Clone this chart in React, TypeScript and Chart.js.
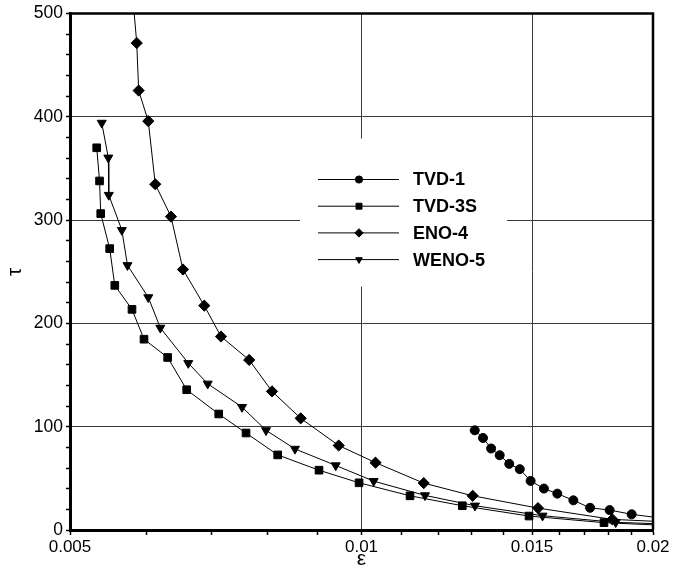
import React, { useEffect, useRef } from 'react';
import { Chart, registerables } from 'chart.js';
import { drawPoint } from 'chart.js/helpers';

Chart.register(...registerables);

// ---- data ----
const seriesNames = ['TVD-1', 'TVD-3S', 'ENO-4', 'WENO-5'];

const tvd1X = [0.01309, 0.01335, 0.01361, 0.01389, 0.01421, 0.01457, 0.01495, 0.01543, 0.01593, 0.01655, 0.01722, 0.01804, 0.01901];
const tvd1Y = [96.5, 89.1, 78.9, 72.4, 64.0, 58.9, 47.5, 40.1, 35.2, 28.7, 21.5, 19.3, 15.2];
const tvd1Tail = { x: 0.02, y: 12.5 };

const tvd3sX = [0.005328, 0.005364, 0.005379, 0.005495, 0.005562, 0.005794, 0.005962, 0.006307, 0.006599, 0.007121, 0.007599, 0.008193, 0.009039, 0.009942, 0.011223, 0.012709, 0.014893, 0.0178];
const tvd3sY = [370.0, 337.9, 306.3, 272.4, 236.8, 213.6, 184.7, 167.0, 135.8, 112.3, 93.9, 72.7, 57.9, 45.7, 33.1, 23.5, 13.5, 7.1];
const tvd3sTail = { x: 0.02, y: 5 };

const eno4Head = { x: 0.0058, y: 520 };
const eno4X = [0.00586, 0.005887, 0.006023, 0.006124, 0.006357, 0.006541, 0.006881, 0.00716, 0.007656, 0.008083, 0.008654, 0.009472, 0.010339, 0.011594, 0.013027, 0.015215, 0.018155];
const eno4Y = [471.4, 425.4, 395.8, 334.7, 303.4, 252.2, 217.2, 187.3, 164.6, 134.2, 108.1, 81.8, 65.2, 45.4, 33.1, 21.2, 10.3];
const eno4Tail = { x: 0.02, y: 8.5 };

const weno5X = [0.005392, 0.005477, 0.005483, 0.005656, 0.005732, 0.006023, 0.006198, 0.006624, 0.006937, 0.007527, 0.007969, 0.008537, 0.009405, 0.010294, 0.01163, 0.013098, 0.01538, 0.018302];
const weno5Y = [394.1, 360.4, 324.3, 290.3, 256.3, 225.2, 195.7, 161.5, 141.6, 119.0, 96.5, 78.5, 62.5, 47.3, 33.5, 23.5, 13.8, 7.4];
const weno5Tail = { x: 0.02, y: 6.2 };

// ---- axes ----
const xMin = 0.005;
const xMax = 0.02;
const xTickValues = [0.005, 0.006, 0.007, 0.008, 0.009, 0.01, 0.011, 0.012, 0.013, 0.014, 0.015, 0.016, 0.017, 0.018, 0.019, 0.02];
const xTickLabels: Record<string, string> = { '0.005': '0.005', '0.01': '0.01', '0.015': '0.015', '0.02': '0.02' };
const xGridValues = [0.01, 0.015];
const yMin = 0;
const yMax = 500;
const yMinorStep = 20;
const yMajorStep = 100;

const FONT = "'Liberation Sans', Arial, Helvetica, sans-serif";

const pts = (xs: number[], ys: number[]) => xs.map((x, i) => ({ x, y: ys[i] }));
const near = (a: number, b: number) => Math.abs(a - b) < 1e-9;

const markerStyles = [
  { pointStyle: 'circle', radius: 4.5, rotation: 0, legendRadius: 3.6 },
  { pointStyle: 'rect', radius: 5.4, rotation: 0, legendRadius: 4.2 },
  { pointStyle: 'rectRot', radius: 5.6, rotation: 0, legendRadius: 4.2 },
  { pointStyle: 'triangle', radius: 5.2, rotation: 180, legendRadius: 3.8 },
];

const boxLegend = {
  id: 'boxLegend',
  beforeDatasetsDraw(chart: any) {
    const { ctx, chartArea: a } = chart;
    ctx.save();
    const bx = a.left + 230;
    const by = a.top + 125;
    const bw = 207;
    const bh = 148;
    ctx.fillStyle = '#fff';
    ctx.fillRect(bx, by, bw, bh);
    seriesNames.forEach((name, i) => {
      const y = by + 41 + i * 26.7;
      ctx.strokeStyle = '#000';
      ctx.lineWidth = 1;
      ctx.beginPath();
      ctx.moveTo(bx + 18, y);
      ctx.lineTo(bx + 99, y);
      ctx.stroke();
      const m = markerStyles[i];
      ctx.fillStyle = '#000';
      drawPoint(ctx, { pointStyle: m.pointStyle as any, radius: m.legendRadius, rotation: m.rotation, borderWidth: 1 }, bx + 59, y);
      ctx.fillStyle = '#000';
      ctx.font = `bold 18px ${FONT}`;
      ctx.textBaseline = 'middle';
      ctx.textAlign = 'left';
      ctx.fillText(name, bx + 113, y + 1);
    });
    ctx.restore();
  },
  afterDraw(chart: any) {
    const { ctx, chartArea: a } = chart;
    ctx.save();
    ctx.strokeStyle = '#000';
    ctx.lineWidth = 2.5;
    ctx.beginPath();
    ctx.moveTo(a.left, a.top);
    ctx.lineTo(a.right, a.top);
    ctx.lineTo(a.right, a.bottom);
    ctx.stroke();
    ctx.restore();
  },
};

export default function App() {
  const ref = useRef<HTMLCanvasElement | null>(null);
  useEffect(() => {
    document.body.style.margin = '0';
    if (!ref.current) return;
    const datasets = [
      { label: seriesNames[0], data: [...pts(tvd1X, tvd1Y), tvd1Tail], n0: 0, n: tvd1X.length, m: markerStyles[0] },
      { label: seriesNames[1], data: [...pts(tvd3sX, tvd3sY), tvd3sTail], n0: 0, n: tvd3sX.length, m: markerStyles[1] },
      { label: seriesNames[2], data: [eno4Head, ...pts(eno4X, eno4Y), eno4Tail], n0: 1, n: eno4X.length, m: markerStyles[2] },
      { label: seriesNames[3], data: [...pts(weno5X, weno5Y), weno5Tail], n0: 0, n: weno5X.length, m: markerStyles[3] },
    ].map((d) => ({
      label: d.label,
      data: d.data,
      borderColor: '#000',
      borderWidth: 1,
      backgroundColor: '#000',
      pointBackgroundColor: '#000',
      pointBorderColor: '#000',
      pointBorderWidth: 1,
      pointStyle: d.m.pointStyle,
      pointRotation: d.m.rotation,
      pointRadius: (c: any) => (c.dataIndex >= d.n0 && c.dataIndex < d.n0 + d.n ? d.m.radius : 0),
      pointHoverRadius: 0,
      tension: 0,
      fill: false,
    }));

    const chart = new Chart(ref.current, {
      type: 'line',
      data: { datasets: datasets as any },
      plugins: [boxLegend],
      options: {
        animation: false,
        responsive: false,
        events: [],
        layout: { padding: { left: 0, right: 20, top: 12, bottom: 0 } },
        plugins: { legend: { display: false }, tooltip: { enabled: false } },
        scales: {
          x: {
            type: 'logarithmic',
            min: xMin,
            max: xMax,
            afterBuildTicks: (scale: any) => {
              scale.ticks = xTickValues.map((v) => ({ value: v }));
            },
            afterFit: (scale: any) => {
              scale.height = 48;
            },
            ticks: {
              autoSkip: false,
              maxRotation: 0,
              padding: 2,
              color: '#000',
              font: { family: FONT, size: 17 },
              callback: (v: any) => {
                const key = Object.keys(xTickLabels).find((k) => near(parseFloat(k), Number(v)));
                return key ? xTickLabels[key] : '';
              },
            },
            grid: {
              drawTicks: true,
              tickLength: 5,
              tickColor: '#000',
              tickWidth: 1.5,
              lineWidth: 1,
              color: (c: any) => (c.tick && xGridValues.some((g) => near(g, c.tick.value)) ? '#3a3a3a' : 'rgba(0,0,0,0)'),
            },
            border: { display: true, color: '#000', width: 3 },
            title: {
              display: true,
              text: 'ε',
              color: '#000',
              font: { family: FONT, size: 21 },
              padding: { top: 0, bottom: 6 },
            },
          },
          y: {
            type: 'linear',
            min: yMin,
            max: yMax,
            afterFit: (scale: any) => {
              scale.width = 70;
            },
            ticks: {
              stepSize: yMinorStep,
              autoSkip: false,
              padding: 3,
              color: '#000',
              font: { family: FONT, size: 17.5 },
              callback: (v: any) => (Number(v) % yMajorStep === 0 ? String(v) : ''),
            },
            grid: {
              drawTicks: true,
              tickLength: 4,
              tickColor: '#000',
              tickWidth: 1.5,
              lineWidth: 1,
              color: (c: any) => {
                const v = c.tick ? c.tick.value : -1;
                return v % yMajorStep === 0 && v > yMin && v < yMax ? '#3a3a3a' : 'rgba(0,0,0,0)';
              },
            },
            border: { display: true, color: '#000', width: 3 },
            title: {
              display: true,
              text: 'τ',
              color: '#000',
              font: { family: FONT, size: 21 },
              padding: { top: 3, bottom: 0 },
            },
          },
        },
      } as any,
    });
    return () => chart.destroy();
  }, []);
  return <canvas ref={ref} width={673} height={578} style={{ display: 'block' }} />;
}
